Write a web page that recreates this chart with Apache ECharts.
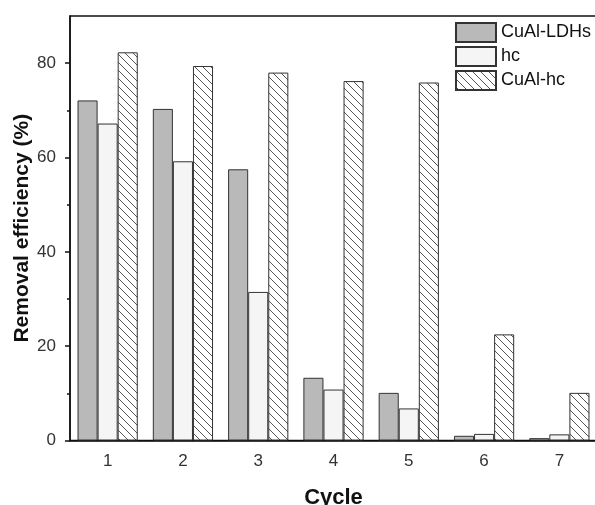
<!DOCTYPE html>
<html>
<head>
<meta charset="utf-8">
<script src="https://cdn.jsdelivr.net/npm/echarts@6/dist/echarts.min.js"></script>
<style>html,body{margin:0;padding:0;background:#fff}#c{width:595px;height:505px}</style>
</head>
<body>
<div id="c"></div>
<script>
const categories = ['1','2','3','4','5','6','7'];
const seriesNames = ['CuAl-LDHs','hc','CuAl-hc'];
const ldhs = [72.1, 70.3, 57.5, 13.3, 10.1, 1.0, 0.5];
const hc = [67.2, 59.2, 31.5, 10.8, 6.8, 1.4, 1.3];
const cualhc = [82.3, 79.4, 78.0, 76.2, 75.9, 22.5, 10.1];
const yTicks = [0, 20, 40, 60, 80];
const yMinorTicks = [10, 30, 50, 70];

function hatch() {
  const c = document.createElement('canvas');
  c.width = 8; c.height = 8;
  const g = c.getContext('2d');
  g.fillStyle = '#fff'; g.fillRect(0, 0, 8, 8);
  g.strokeStyle = '#555'; g.lineWidth = 1;
  g.beginPath();
  g.moveTo(-1, -1); g.lineTo(9, 9);
  g.moveTo(-1, 7); g.lineTo(1, 9);
  g.moveTo(7, -1); g.lineTo(9, 1);
  g.stroke();
  return c;
}

const chart = echarts.init(document.getElementById('c'), null, {renderer: 'canvas'});
const font = 'Liberation Sans, Arial, sans-serif';
const border = {borderColor: '#333', borderWidth: 1};
chart.setOption({
  animation: false,
  backgroundColor: '#fff',
  grid: {left: 70, top: 16, right: -2, bottom: 64.5, outerBoundsMode: 'none', containLabel: false,
         show: true, borderColor: '#111', borderWidth: 1.5, backgroundColor: 'transparent'},
  legend: {
    left: 450, top: 17, orient: 'vertical', itemWidth: 40, itemHeight: 19, itemGap: 3,
    icon: 'rect',
    textStyle: {fontFamily: font, fontSize: 18, lineHeight: 19, color: '#111'},
    data: seriesNames
  },
  xAxis: [{
    type: 'category', data: categories, position: 'bottom',
    name: 'Cycle', nameLocation: 'middle', nameGap: 46,
    nameTextStyle: {fontFamily: font, fontSize: 22, fontWeight: 'bold', color: '#111'},
    axisLine: {lineStyle: {color: '#111', width: 1.5}},
    axisTick: {alignWithLabel: true, length: 5, lineStyle: {color: '#111', width: 1.5}},
    axisLabel: {fontFamily: font, fontSize: 17, color: '#333', margin: 12}
  }, {
    type: 'category', data: categories, position: 'bottom',
    axisLine: {show: false},
    axisTick: {length: 3, lineStyle: {color: '#111', width: 1.5}},
    axisLabel: {show: false}
  }],
  yAxis: [{
    type: 'value', min: 0, max: 90,
    name: 'Removal efficiency (%)', nameLocation: 'middle', nameGap: 37, nameMoveOverlap: false,
    nameTextStyle: {fontFamily: font, fontSize: 21, fontWeight: 'bold', color: '#111'},
    splitLine: {show: false},
    axisLine: {show: true, lineStyle: {color: '#111', width: 1.5}},
    axisTick: {show: true, length: 5, customValues: yTicks, lineStyle: {color: '#111', width: 1.5}},
    axisLabel: {fontFamily: font, fontSize: 17, color: '#333', margin: 14, customValues: yTicks}
  }, {
    type: 'value', min: 0, max: 90, position: 'left',
    splitLine: {show: false},
    axisLine: {show: false},
    axisTick: {show: true, length: 3, customValues: yMinorTicks, lineStyle: {color: '#111', width: 1.5}},
    axisLabel: {show: false, customValues: yMinorTicks}
  }],
  series: [
    {name: seriesNames[0], type: 'bar', data: ldhs, barGap: '0%', barCategoryGap: '20%',
     itemStyle: Object.assign({color: '#b9b9b9'}, border)},
    {name: seriesNames[1], type: 'bar', data: hc, barGap: '0%', barCategoryGap: '20%',
     itemStyle: Object.assign({color: '#f5f5f5'}, border)},
    {name: seriesNames[2], type: 'bar', data: cualhc, barGap: '0%', barCategoryGap: '20%',
     itemStyle: Object.assign({color: {image: hatch(), repeat: 'repeat'}}, border)}
  ]
});
</script>
</body>
</html>
